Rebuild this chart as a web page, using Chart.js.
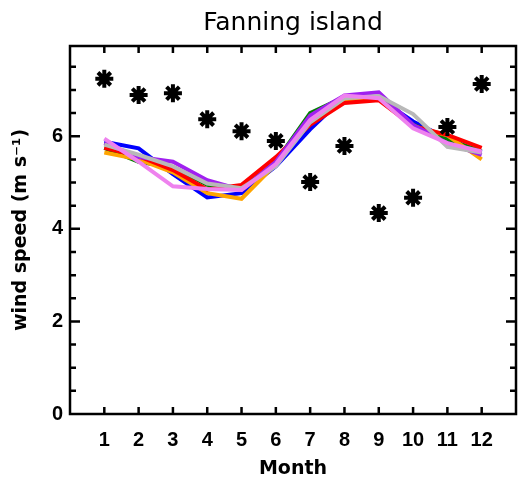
<!DOCTYPE html>
<html><head><meta charset="utf-8">
<script src="https://cdn.jsdelivr.net/npm/chart.js@4/dist/chart.umd.min.js"></script>
<style>html,body{margin:0;padding:0;background:#fff;} canvas{display:block;}</style>
</head><body>
<canvas id="c" width="518" height="479"></canvas>
<script>
const months = [1,2,3,4,5,6,7,8,9,10,11,12];
const observed = [7.24, 6.89, 6.93, 6.37, 6.11, 5.90, 5.01, 5.79, 4.34, 4.67, 6.20, 7.13];
const blueSeries   = [5.88, 5.74, 5.18, 4.68, 4.77, 5.35, 6.15, 6.85, 6.82, 6.32, 5.95, 5.65];
const greenSeries  = [5.75, 5.45, 5.33, 4.95, 4.85, 5.45, 6.50, 6.85, 6.85, 6.25, 5.92, 5.68];
const orangeSeries = [5.65, 5.50, 5.22, 4.77, 4.65, 5.40, 6.30, 6.78, 6.80, 6.22, 6.02, 5.50];
const redSeries    = [5.75, 5.57, 5.27, 4.85, 4.95, 5.55, 6.25, 6.72, 6.78, 6.22, 6.03, 5.75];
const purpleSeries = [5.85, 5.55, 5.45, 5.05, 4.84, 5.45, 6.45, 6.88, 6.95, 6.25, 5.85, 5.60];
const graySeries   = [5.82, 5.60, 5.35, 4.98, 4.88, 5.35, 6.30, 6.82, 6.87, 6.48, 5.77, 5.65];
const violetSeries = [5.95, 5.45, 4.92, 4.86, 4.84, 5.40, 6.35, 6.88, 6.82, 6.17, 5.85, 5.67];
const yTickLabels = [0, 2, 4, 6];
const titleText = 'Fanning island';
const xTitle = 'Month';
const yTitle = 'wind speed (m s\u207B\u00B9)';

const toPts = arr => arr.map((v, i) => ({x: months[i], y: v}));

const lineSeries = [
  {data: violetSeries, color: '#ee82ee'},
  {data: graySeries,   color: '#b8b8b8'},
  {data: purpleSeries, color: '#a020f0'},
  {data: redSeries,    color: '#ff0000'},
  {data: orangeSeries, color: '#ffa500'},
  {data: greenSeries,  color: '#008000'},
  {data: blueSeries,   color: '#0000ff'}
];

const datasets = [{
  data: toPts(observed), showLine: false, pointStyle: 'star', pointRadius: 9,
  pointBorderWidth: 4, pointBorderColor: '#000', pointBackgroundColor: '#000', order: 0
}].concat(lineSeries.map((s, i) => ({
  data: toPts(s.data), showLine: true, borderColor: s.color, borderWidth: 4, pointRadius: 0,
  tension: 0, fill: false, order: i + 1
})));

const framePlugin = {
  id: 'frame',
  afterDatasetsDraw(chart) {
    const {ctx, chartArea: a, scales: {x, y}} = chart;
    ctx.save();
    ctx.strokeStyle = '#000';
    ctx.lineWidth = 2.5;
    ctx.beginPath();
    months.forEach(m => {
      const px = x.getPixelForValue(m);
      ctx.moveTo(px, a.bottom); ctx.lineTo(px, a.bottom - 7);
      ctx.moveTo(px, a.top); ctx.lineTo(px, a.top + 7);
    });
    for (let k = 1; k < 16; k++) {
      const v = k * 0.5;
      const py = y.getPixelForValue(v);
      if (py < a.top + 2) continue;
      const len = (k % 4 === 0) ? 10 : 6;
      ctx.moveTo(a.left, py); ctx.lineTo(a.left + len, py);
      ctx.moveTo(a.right, py); ctx.lineTo(a.right - len, py);
    }
    ctx.stroke();
    ctx.strokeRect(a.left, a.top, a.right - a.left, a.bottom - a.top);
    ctx.restore();
  }
};

new Chart(document.getElementById('c'), {
  type: 'scatter',
  data: {datasets},
  options: {
    responsive: false, animation: false,
    layout: {autoPadding: false, padding: {left: 0, right: 2, top: 0, bottom: 0}},
    plugins: {
      legend: {display: false}, tooltip: {enabled: false},
      title: {display: true, text: titleText, fullSize: false, color: '#000',
        font: {family: 'DejaVu Sans', size: 25, weight: 'normal', lineHeight: 1.2},
        padding: {top: 8, bottom: 8}}
    },
    scales: {
      x: {type: 'linear', min: 0, max: 13,
        grid: {display: false, drawTicks: false}, border: {display: false},
        ticks: {stepSize: 1, maxTicksLimit: 20, autoSkip: false, maxRotation: 0, padding: 14, color: '#000',
          font: {family: 'Liberation Sans', size: 20, weight: 'bold'},
          callback: v => months.includes(v) ? String(v) : ''},
        title: {display: true, text: xTitle, color: '#000',
          font: {family: 'DejaVu Sans', size: 19, weight: 'bold', lineHeight: 1}, padding: {top: 0, bottom: 0}},
        afterFit(s) { s.height = 65; s.paddingLeft = 0; s.paddingRight = 0; }
      },
      y: {type: 'linear', min: 0, max: 7.95,
        grid: {display: false, drawTicks: false}, border: {display: false},
        ticks: {stepSize: 2, padding: 7, color: '#000',
          font: {family: 'Liberation Sans', size: 20, weight: 'bold'},
          callback: v => yTickLabels.includes(v) ? String(v) : ''},
        title: {display: true, text: yTitle, color: '#000',
          font: {family: 'DejaVu Sans', size: 19, weight: 'bold', lineHeight: 1}, padding: {top: 12, bottom: 0}},
        afterFit(s) { s.width = 70; s.paddingTop = 0; s.paddingBottom = 0; }
      }
    }
  },
  plugins: [framePlugin]
});
</script>
</body></html>
